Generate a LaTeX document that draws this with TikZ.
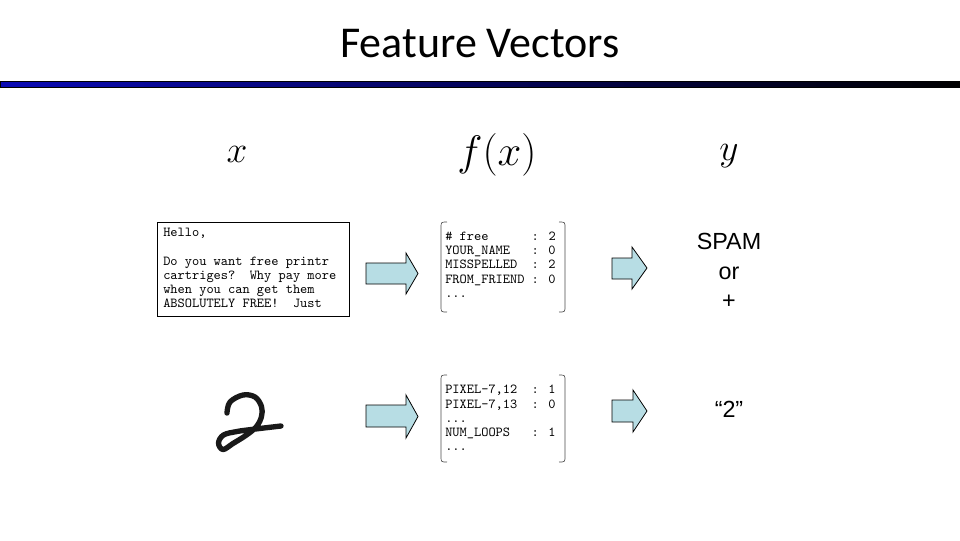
\RequirePackage{fix-cm}
\documentclass[tikz,border=0pt]{standalone}
\usepackage{fontspec}
\setmainfont{Liberation Sans}
\newfontfamily\titlefont{Carlito}
\newfontfamily\arialfont{Liberation Sans}
\definecolor{barblue}{RGB}{10,10,180}
\definecolor{arrowfill}{RGB}{183,221,228}
\newcommand\fvn[1]{\makebox[59.4pt][l]{#1}}
\begin{document}
\begin{tikzpicture}[x=0.75pt,y=-0.75pt,
  mono/.style={font=\ttfamily\fontsize{10.3}{10.7}\selectfont, inner sep=0pt, align=left, anchor=north west},
  bigmath/.style={inner sep=0pt},
  answer/.style={font=\arialfont\fontsize{17.5}{22}\selectfont, align=center, inner sep=0pt},
  blockarrow/.style={draw=black, line width=0.6pt, fill=arrowfill, line join=miter},
  vbrace/.style={draw=black!70, line width=0.5pt},
  stroke/.style={line width=4pt, line cap=round, line join=round}]
\useasboundingbox (0,0) rectangle (960,540);
\fill[white] (0,0) rectangle (960,540);
% title
\node[font=\titlefont\fontsize{33}{38}\selectfont, inner sep=0pt] (title) at (480,44) {Feature Vectors};
\shade[left color=barblue, right color=black] (0,81) rectangle (960,87);
\draw[black, line width=0.5pt] (0,81) rectangle (960,87);
% headers
\node[bigmath, font=\fontsize{28}{30}\selectfont] (hx) at (237,154) {$x$};
\node[bigmath, font=\fontsize{32}{36}\selectfont] (hf) at (497,155) {$f(x)$};
\node[bigmath, font=\fontsize{28}{32}\selectfont] (hy) at (729,156) {$y$};
% email box
\draw[black, line width=0.75pt] (157,222) rectangle (349,316);
\node[mono] (email) at (163,228) {\frenchspacing Hello,\\[10.7pt]Do you want free printr\\cartriges?~~Why pay more\\when you can get them\\ABSOLUTELY FREE!~~Just};
% feature vector 1
\draw[vbrace] (447,222) .. controls (441,222) .. (441,228) -- (441,306) .. controls (441,312) .. (447,312);
\draw[vbrace] (559,222) .. controls (565,222) .. (565,228) -- (565,306) .. controls (565,312) .. (559,312);
\node[mono] (fv1) at (445,231.5) {\fvn{\# free} : 2\\\fvn{YOUR\_NAME} : 0\\\fvn{MISSPELLED} : 2\\\fvn{FROM\_FRIEND} : 0\\...};
% feature vector 2
\draw[vbrace] (447,375) .. controls (441,375) .. (441,381) -- (441,456) .. controls (441,462) .. (447,462);
\draw[vbrace] (559,375) .. controls (565,375) .. (565,381) -- (565,456) .. controls (565,462) .. (559,462);
\node[mono] (fv2) at (445,385) {\fvn{PIXEL-7,12} : 1\\\fvn{PIXEL-7,13} : 0\\...\\\fvn{NUM\_LOOPS} : 1\\...};
% handwritten 2
\draw[stroke, black!90] plot[smooth, tension=0.6] coordinates {(227,413) (230,402) (243,395) (255,397) (261.5,406.5) (261.5,416.5) (256.5,426.5) (246.5,435) (233,443.5) (223,449.5) (218.5,443) (223.5,435) (237,431.5) (253,429.3) (281,426)};
% arrows
\draw[blockarrow] (366,263)--(406,263)--(406,253)--(418,273.5)--(406,294)--(406,284)--(366,284)--cycle;
\draw[blockarrow] (612,258)--(632,258)--(632,247)--(647,268)--(632,289)--(632,279)--(612,279)--cycle;
\draw[blockarrow] (366,405)--(406,405)--(406,395)--(418,416.5)--(406,438)--(406,427)--(366,427)--cycle;
\draw[blockarrow] (612,400)--(633,400)--(633,390)--(647,411)--(633,432)--(633,422)--(612,422)--cycle;
% answers
\node[answer] (spam) at (729,271) {SPAM\\or\\+};
\node[answer] (two) at (729,409) {“2”};
\end{tikzpicture}
\end{document}
